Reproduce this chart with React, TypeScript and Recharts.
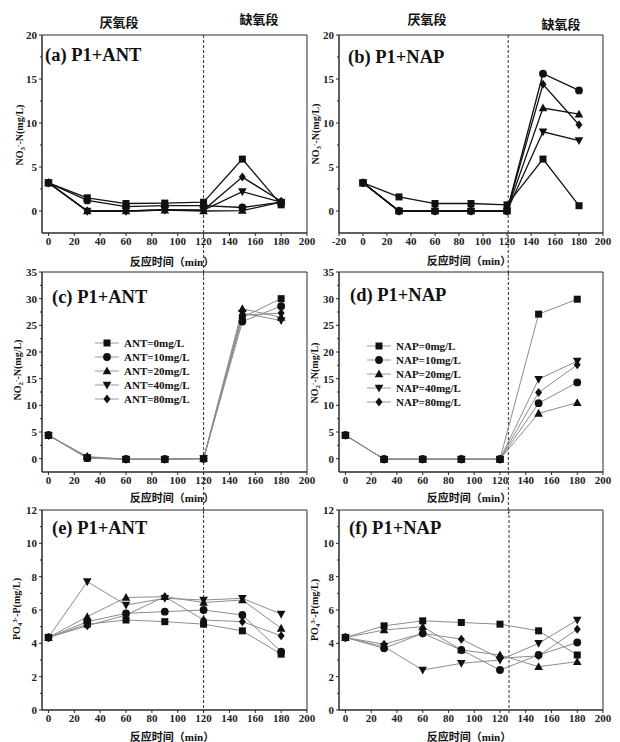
import React from "react";
import { LineChart, Line, XAxis, YAxis, ReferenceLine, ReferenceArea } from "recharts";

// sampling times (min)
const times = [0, 30, 60, 90, 120, 150, 180];

const antLabels = ["ANT=0mg/L", "ANT=10mg/L", "ANT=20mg/L", "ANT=40mg/L", "ANT=80mg/L"];
const napLabels = ["NAP=0mg/L", "NAP=10mg/L", "NAP=20mg/L", "NAP=40mg/L", "NAP=80mg/L"];

// rows: 0, 10, 20, 40, 80 mg/L
const no3Ant = [
  [3.2, 1.5, 0.85, 0.9, 1.0, 5.9, 0.7],
  [3.2, 1.2, 0.5, 0.6, 0.6, 0.4, 1.0],
  [3.2, 0.0, 0.0, 0.1, 0.0, 0.05, 1.0],
  [3.2, 0.0, 0.0, 0.1, 0.1, 2.2, 1.0],
  [3.2, 0.0, 0.0, 0.15, 0.1, 3.85, 1.1],
];
const no3Nap = [
  [3.2, 1.6, 0.85, 0.85, 0.7, 5.9, 0.6],
  [3.2, 0.0, 0.0, 0.0, 0.0, 15.6, 13.7],
  [3.2, 0.0, 0.0, 0.0, 0.0, 11.7, 11.0],
  [3.2, 0.0, 0.0, 0.0, 0.0, 9.0, 8.0],
  [3.2, 0.0, 0.0, 0.0, 0.0, 14.4, 9.8],
];
const no2Ant = [
  [4.4, 0.1, -0.1, -0.1, 0.0, 26.5, 30.0],
  [4.4, 0.1, -0.1, -0.1, 0.0, 25.7, 28.6],
  [4.4, 0.4, -0.1, -0.1, 0.0, 28.1, 26.5],
  [4.4, 0.2, -0.1, -0.1, 0.0, 27.3, 25.9],
  [4.4, 0.3, -0.1, -0.1, 0.0, 26.9, 27.3],
];
const no2Nap = [
  [4.4, -0.1, -0.1, -0.1, -0.1, 27.1, 29.9],
  [4.4, -0.1, -0.1, -0.1, -0.1, 10.4, 14.3],
  [4.4, -0.1, -0.1, -0.1, -0.1, 8.5, 10.5],
  [4.4, -0.1, -0.1, -0.1, -0.1, 14.9, 18.3],
  [4.4, -0.1, -0.1, -0.1, -0.1, 12.4, 17.6],
];
const po4Ant = [
  [4.35, 5.15, 5.4, 5.3, 5.15, 4.75, 3.35],
  [4.35, 5.3, 5.8, 5.9, 6.0, 5.7, 3.5],
  [4.35, 5.6, 6.75, 6.8, 6.45, 6.6, 4.9],
  [4.35, 7.7, 6.3, 6.7, 6.6, 6.7, 5.75],
  [4.35, 5.05, 5.7, 6.8, 5.4, 5.3, 4.45],
];
const po4Nap = [
  [4.35, 5.05, 5.35, 5.25, 5.15, 4.75, 3.3],
  [4.35, 3.7, 4.6, 3.6, 2.4, 3.3, 4.05],
  [4.35, 4.8, 5.0, 3.6, 3.3, 2.6, 2.9],
  [4.35, 3.8, 2.4, 2.8, 3.0, 4.0, 5.4],
  [4.35, 3.95, 4.6, 4.25, 3.1, 3.25, 4.85],
];

const xTicks = [0, 20, 40, 60, 80, 100, 120, 140, 160, 180, 200];
const xTicksWide = [-20, 0, 20, 40, 60, 80, 100, 120, 140, 160, 180, 200];
const no3Ticks = [0, 5, 10, 15, 20];
const no2Ticks = [0, 5, 10, 15, 20, 25, 30, 35];
const po4Ticks = [0, 2, 4, 6, 8, 10, 12];

const shapes = ["square", "circle", "up", "down", "diamond"];

const SERIF = "'Liberation Serif', 'Times New Roman', serif";
const MIXED = "'Liberation Serif', 'Noto Sans CJK SC', serif";
const AXIS = "#2b2b2b";

function Marker({ shape, cx, cy, s = 3.5 }: { shape: string; cx?: number; cy?: number; s?: number }) {
  if (cx == null || cy == null) return null;
  const f = "#111";
  switch (shape) {
    case "square":
      return <rect x={cx - s} y={cy - s} width={2 * s} height={2 * s} fill={f} />;
    case "circle":
      return <circle cx={cx} cy={cy} r={s + 0.4} fill={f} />;
    case "up":
      return <polygon points={`${cx},${cy - s - 1} ${cx - s - 0.8},${cy + s - 0.2} ${cx + s + 0.8},${cy + s - 0.2}`} fill={f} />;
    case "down":
      return <polygon points={`${cx},${cy + s + 1} ${cx - s - 0.8},${cy - s + 0.2} ${cx + s + 0.8},${cy - s + 0.2}`} fill={f} />;
    default:
      return <polygon points={`${cx},${cy - s - 1} ${cx + s},${cy} ${cx},${cy + s + 1} ${cx - s},${cy}`} fill={f} />;
  }
}

function YTick(props: any) {
  const { x, y, payload, majors } = props;
  const major = majors.includes(payload.value);
  return (
    <g>
      <line x1={x + (major ? 2 : 3)} x2={x + 5} y1={y} y2={y} stroke={AXIS} />
      {major && (
        <text x={x} y={y} dy="0.35em" textAnchor="end" fontFamily={SERIF} fontWeight={700} fontSize={11} fill="#222">
          {payload.value}
        </text>
      )}
    </g>
  );
}

type PanelProps = {
  left: number;
  top: number;
  width: number;
  height: number;
  margin: { top: number; right: number; bottom: number; left: number };
  yWidth: number;
  xHeight: number;
  series: number[][];
  xDomain: [number, number];
  xTickList: number[];
  yDomain: [number, number];
  yTicks: number[];
  yStep: number;
  dashX: number;
  dashBottom: number;
  lineColor: string;
  lineWidth: number;
};

function Panel(p: PanelProps) {
  const rows = times.map((t, i) => {
    const r: Record<string, number> = { t };
    p.series.forEach((s, k) => {
      r["s" + k] = s[i];
    });
    return r;
  });
  const minors = p.yTicks.slice(0, -1).map((v) => v + p.yStep / 2);
  const allTicks = [...p.yTicks, ...minors].sort((a, b) => a - b);
  return (
    <div style={{ position: "absolute", left: p.left, top: p.top }}>
      <LineChart width={p.width} height={p.height} data={rows} margin={p.margin}>
        <XAxis
          dataKey="t"
          type="number"
          domain={p.xDomain}
          ticks={p.xTickList}
          interval={0}
          allowDataOverflow
          height={p.xHeight}
          tickSize={3}
          tickMargin={1}
          axisLine={{ stroke: AXIS }}
          tickLine={{ stroke: AXIS }}
          tick={{ fontFamily: SERIF, fontWeight: 700, fontSize: 11, fill: "#222" }}
        />
        <YAxis
          type="number"
          domain={p.yDomain}
          ticks={allTicks}
          interval={0}
          allowDataOverflow
          width={p.yWidth}
          tickSize={3}
          tickMargin={2}
          axisLine={{ stroke: AXIS }}
          tickLine={false}
          tick={(tp: any) => <YTick {...tp} majors={p.yTicks} />}
        />
        <ReferenceArea
          x1={p.xDomain[0]}
          x2={p.xDomain[1]}
          y1={p.yDomain[0]}
          y2={p.yDomain[1]}
          fill="none"
          stroke={AXIS}
          ifOverflow="visible"
        />
        <ReferenceLine
          segment={[
            { x: p.dashX, y: p.yDomain[1] },
            { x: p.dashX, y: p.dashBottom },
          ]}
          stroke="#333"
          strokeDasharray="3 2"
          ifOverflow="visible"
        />
        {p.series.map((_, k) => (
          <Line
            key={k}
            dataKey={"s" + k}
            stroke={p.lineColor}
            strokeWidth={p.lineWidth}
            isAnimationActive={false}
            activeDot={false}
            dot={(d: any) => <Marker key={`m-${k}-${d.index}`} shape={shapes[k]} cx={d.cx} cy={d.cy} />}
          />
        ))}
      </LineChart>
    </div>
  );
}

function Txt({ x, y, size, children, anchor = "center", family = MIXED }: any) {
  return (
    <div
      style={{
        position: "absolute",
        left: x,
        top: y,
        transform: anchor === "center" ? "translate(-50%,-50%)" : "translate(0,-50%)",
        whiteSpace: "nowrap",
        fontFamily: family,
        fontWeight: 700,
        fontSize: size,
        lineHeight: 1,
        color: "#111",
      }}
    >
      {children}
    </div>
  );
}

function VLabel({ x, y, children }: any) {
  return (
    <div
      style={{
        position: "absolute",
        left: x,
        top: y,
        transform: "translate(-50%,-50%) rotate(-90deg)",
        whiteSpace: "nowrap",
        fontFamily: SERIF,
        fontWeight: 700,
        fontSize: 10,
        lineHeight: 1,
        color: "#111",
      }}
    >
      {children}
    </div>
  );
}

function LegendBox({ left, top, labels }: { left: number; top: number; labels: string[] }) {
  return (
    <div style={{ position: "absolute", left, top }}>
      {labels.map((lab, k) => (
        <div key={lab} style={{ display: "flex", alignItems: "center", height: 14 }}>
          <svg width={24} height={12}>
            <line x1={0} x2={24} y1={6} y2={6} stroke="#999" />
            <Marker shape={shapes[k]} cx={12} cy={6} />
          </svg>
          <span style={{ marginLeft: 5, fontFamily: SERIF, fontWeight: 700, fontSize: 11, color: "#111" }}>{lab}</span>
        </div>
      ))}
    </div>
  );
}

const sub = { fontSize: "70%", verticalAlign: "-0.25em", lineHeight: 0 } as const;
const sup = { fontSize: "70%", verticalAlign: "0.45em", lineHeight: 0 } as const;

export default function App() {
  const L = { left: 0, width: 316, ml: 12, mr: 9, yw: 30 };
  const R = { left: 305, width: 310, ml: 10, mr: 12, yw: 24 };
  const rowA = { top: 0, height: 276, mt: 35, xh: 43 };
  const rowC = { top: 262, height: 252, mt: 10, xh: 42 };
  const rowE = { top: 500, height: 242, mt: 10, xh: 32 };
  const m = (c: typeof L, r: typeof rowA) => ({ top: r.mt, right: c.mr, bottom: 0, left: c.ml });

  return (
    <div style={{ position: "absolute", left: 0, top: 0, width: 620, height: 742, background: "#fff", overflow: "hidden" }}>
      <Panel left={L.left} top={rowA.top} width={L.width} height={rowA.height} margin={m(L, rowA)} yWidth={L.yw} xHeight={rowA.xh}
        series={no3Ant} xDomain={[-5, 200]} xTickList={xTicks} yDomain={[-2.5, 20]} yTicks={no3Ticks} yStep={5}
        dashX={120} dashBottom={-8} lineColor="#111" lineWidth={1.3} />
      <Panel left={R.left} top={rowA.top} width={R.width} height={rowA.height} margin={m(R, rowA)} yWidth={R.yw} xHeight={rowA.xh}
        series={no3Nap} xDomain={[-20, 200]} xTickList={xTicksWide} yDomain={[-2.5, 20]} yTicks={no3Ticks} yStep={5}
        dashX={121} dashBottom={-8} lineColor="#111" lineWidth={1.3} />
      <Panel left={L.left} top={rowC.top} width={L.width} height={rowC.height} margin={m(L, rowC)} yWidth={L.yw} xHeight={rowC.xh}
        series={no2Ant} xDomain={[-5, 200]} xTickList={xTicks} yDomain={[-2.5, 35]} yTicks={no2Ticks} yStep={5}
        dashX={120} dashBottom={-11} lineColor="#8c8c8c" lineWidth={1} />
      <Panel left={R.left} top={rowC.top} width={R.width} height={rowC.height} margin={m(R, rowC)} yWidth={R.yw} xHeight={rowC.xh}
        series={no2Nap} xDomain={[-5, 200]} xTickList={xTicks} yDomain={[-2.5, 35]} yTicks={no2Ticks} yStep={5}
        dashX={126.5} dashBottom={-11} lineColor="#8c8c8c" lineWidth={1} />
      <Panel left={L.left} top={rowE.top} width={L.width} height={rowE.height} margin={m(L, rowE)} yWidth={L.yw} xHeight={rowE.xh}
        series={po4Ant} xDomain={[-5, 200]} xTickList={xTicks} yDomain={[0, 12]} yTicks={po4Ticks} yStep={2}
        dashX={120} dashBottom={-0.2} lineColor="#8c8c8c" lineWidth={1} />
      <Panel left={R.left} top={rowE.top} width={R.width} height={rowE.height} margin={m(R, rowE)} yWidth={R.yw} xHeight={rowE.xh}
        series={po4Nap} xDomain={[-5, 200]} xTickList={xTicks} yDomain={[0, 12]} yTicks={po4Ticks} yStep={2}
        dashX={127} dashBottom={-0.2} lineColor="#8c8c8c" lineWidth={1} />

      {/* phase headers */}
      <Txt x={119} y={22} size={13}>厌氧段</Txt>
      <Txt x={259} y={19} size={13}>缺氧段</Txt>
      <Txt x={427} y={19} size={13}>厌氧段</Txt>
      <Txt x={561} y={24} size={13}>缺氧段</Txt>

      {/* panel titles */}
      <Txt x={45} y={55} size={18.5} anchor="left" family={SERIF}>(a) P1+ANT</Txt>
      <Txt x={348} y={57} size={18.5} anchor="left" family={SERIF}>(b) P1+NAP</Txt>
      <Txt x={52} y={297} size={18.5} anchor="left" family={SERIF}>(c) P1+ANT</Txt>
      <Txt x={350} y={295} size={18.5} anchor="left" family={SERIF}>(d) P1+NAP</Txt>
      <Txt x={52} y={528} size={18.5} anchor="left" family={SERIF}>(e) P1+ANT</Txt>
      <Txt x={349} y={528} size={18.5} anchor="left" family={SERIF}>(f) P1+NAP</Txt>

      {/* x titles */}
      <Txt x={172} y={262} size={11}>反应时间（min）</Txt>
      <Txt x={469} y={261} size={11}>反应时间（min）</Txt>
      <Txt x={172} y={498} size={11}>反应时间（min）</Txt>
      <Txt x={469} y={498} size={11}>反应时间（min）</Txt>
      <Txt x={172} y={737} size={11}>反应时间（min）</Txt>
      <Txt x={469} y={737} size={11}>反应时间（min）</Txt>

      {/* y titles */}
      <VLabel x={20} y={135}>NO<span style={sub}>3</span><span style={sup}>-</span>-N(mg/L)</VLabel>
      <VLabel x={316} y={134}>NO<span style={sub}>3</span><span style={sup}>-</span>-N(mg/L)</VLabel>
      <VLabel x={18} y={370}>NO<span style={sub}>2</span><span style={sup}>-</span>-N(mg/L)</VLabel>
      <VLabel x={315} y={373}>NO<span style={sub}>2</span><span style={sup}>-</span>-N(mg/L)</VLabel>
      <VLabel x={17} y={609}>PO<span style={sub}>4</span><span style={sup}>3-</span>-P(mg/L)</VLabel>
      <VLabel x={315} y={610}>PO<span style={sub}>4</span><span style={sup}>3-</span>-P(mg/L)</VLabel>

      <LegendBox left={95} top={336} labels={antLabels} />
      <LegendBox left={367} top={339} labels={napLabels} />
    </div>
  );
}
